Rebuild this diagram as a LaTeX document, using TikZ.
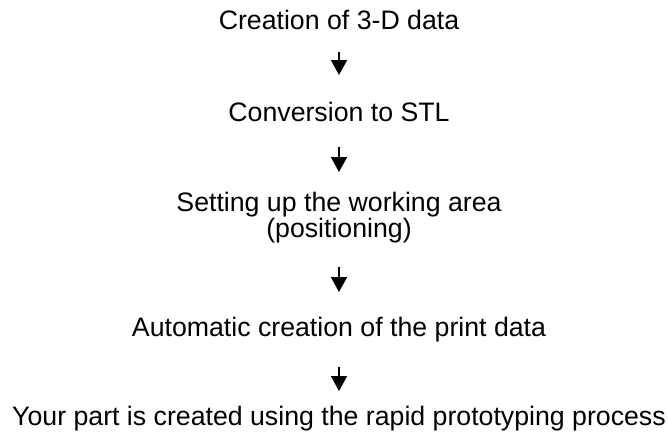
\documentclass[tikz,border=0pt]{standalone}
\usepackage{fontspec}
\setmainfont{Liberation Sans}
\usetikzlibrary{arrows.meta}
\begin{document}
\begin{tikzpicture}[x=1pt,y=-1pt,
  lbl/.style={anchor=base,inner sep=0pt,align=center,font=\fontsize{26.7pt}{23pt}\selectfont},
  flow/.style={line width=1.7pt,-{Triangle[width=16pt,length=15pt]}}]
\useasboundingbox (0,0) rectangle (668,434);
\node[lbl] (t1) at (339,29) {Creation of 3-D data};
\node[lbl] (t2) at (339,121) {Conversion to STL};
\node[lbl] (t3) at (339,237) {Setting up the working area\\(positioning)};
\node[lbl] (t4) at (339,336) {Automatic creation of the print data};
\node[lbl] (t5) at (339,425) {Your part is created using the rapid prototyping process};
\coordinate (a1s) at (339,52);  \coordinate (a1e) at (339,75);
\coordinate (a2s) at (339,147); \coordinate (a2e) at (339,172);
\coordinate (a3s) at (339,267); \coordinate (a3e) at (339,292);
\coordinate (a4s) at (339,367); \coordinate (a4e) at (339,391);
\draw[flow] (a1s) -- (a1e);
\draw[flow] (a2s) -- (a2e);
\draw[flow] (a3s) -- (a3e);
\draw[flow] (a4s) -- (a4e);
\end{tikzpicture}
\end{document}
